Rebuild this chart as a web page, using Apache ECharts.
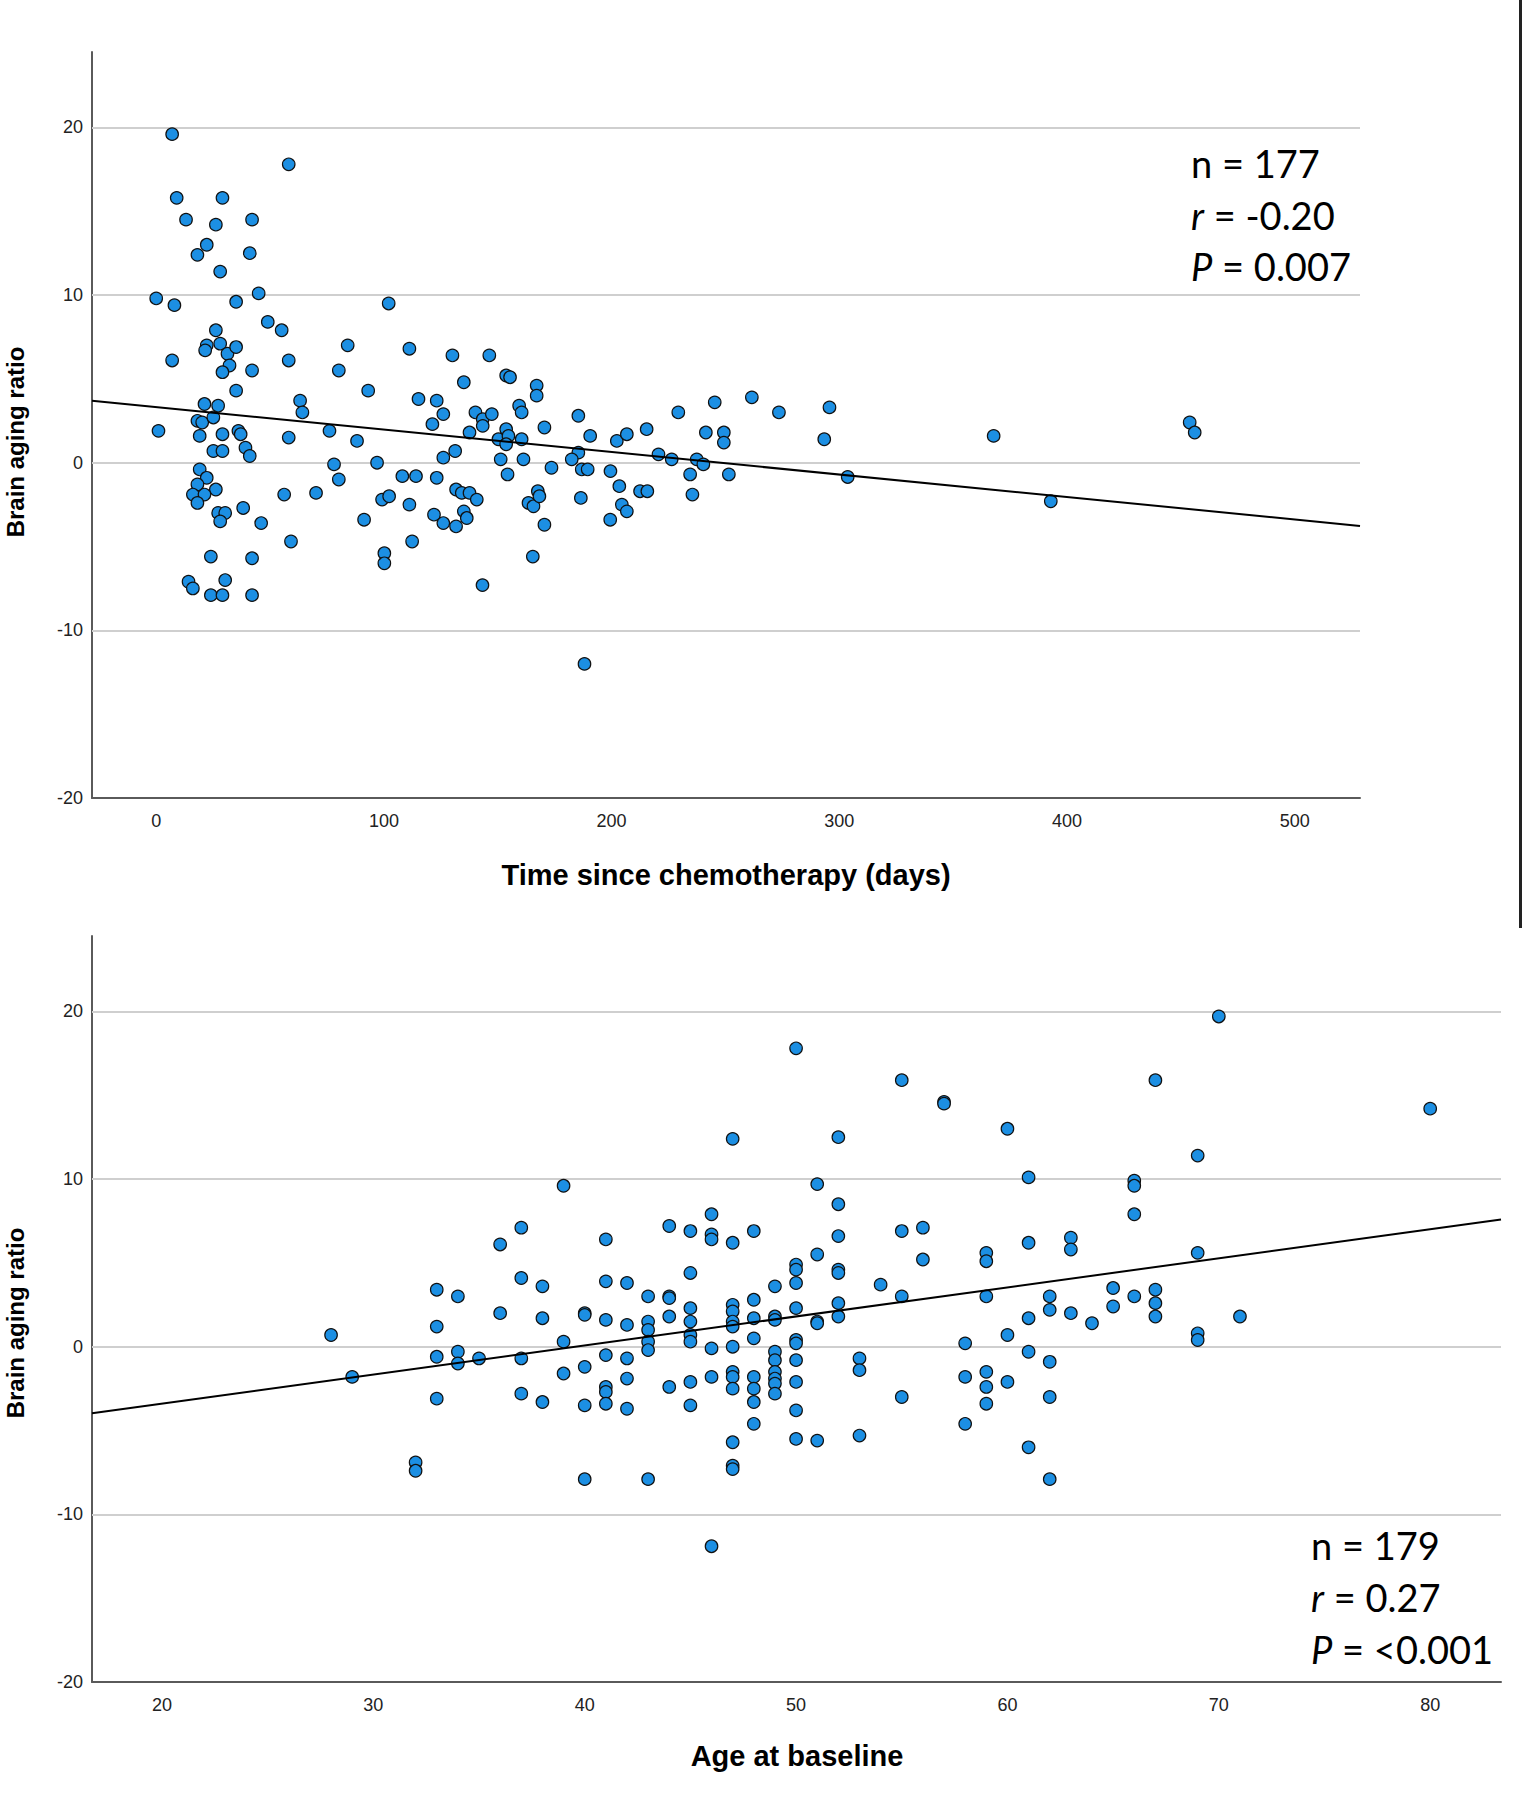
<!DOCTYPE html>
<html>
<head>
<meta charset="utf-8">
<script src="https://cdn.jsdelivr.net/npm/echarts@6/dist/echarts.min.js"></script>
<style>
html,body{margin:0;padding:0;background:#fff;}
#c{width:1522px;height:1800px;}
</style>
</head>
<body>
<div id="c"></div>
<script>
// ---------- data: top panel (time since chemotherapy) ----------
const timeDays = [
  7.0, 58.2, 9.0, 29.1, 13.1, 26.2, 42.1, 22.2, 18.1, 41.1,
  28.1, 0.0, 8.0, 35.1, 45.0, 49.0, 55.1, 102.1, 26.2, 22.2,
  21.5, 28.1, 31.3, 35.1, 32.2, 29.1, 7.0, 42.1, 58.2, 35.1,
  84.1, 80.2, 111.2, 130.1, 93.1, 21.2, 27.2, 18.1, 20.2, 25.1,
  1.0, 19.1, 29.1, 36.1, 37.1, 58.2, 63.2, 64.2, 76.1, 88.2,
  115.2, 123.2, 126.1, 121.3, 25.1, 29.1, 39.2, 41.1, 78.1, 80.2,
  97.0, 126.1, 131.3, 19.1, 22.2, 18.1, 26.2, 16.1, 21.2, 18.1,
  27.2, 30.3, 28.1, 38.2, 46.1, 56.2, 70.2, 59.2, 91.3, 99.2,
  102.3, 108.1, 114.1, 111.2, 123.2, 112.4, 122.0, 126.1, 131.7, 131.7,
  100.2, 100.2, 24.0, 42.1, 14.2, 16.1, 30.3, 24.0, 29.1, 42.1,
  146.3, 135.1, 153.7, 155.4, 167.1, 167.1, 140.2, 143.4, 143.4, 147.4,
  137.6, 159.4, 160.5, 170.5, 150.3, 153.7, 154.7, 153.7, 160.5, 151.3,
  161.3, 154.3, 173.6, 185.4, 190.6, 185.4, 182.5, 186.9, 189.5, 202.3,
  206.7, 199.5, 203.4, 215.4, 212.5, 215.7, 204.5, 206.7, 199.4, 186.5,
  220.6, 226.4, 229.3, 237.4, 240.3, 234.5, 235.5, 241.4, 245.3, 249.3,
  249.3, 251.5, 261.6, 134.2, 137.6, 140.8, 135.1, 136.4, 163.5, 165.7,
  167.6, 168.3, 170.5, 165.4, 143.3, 188.1,
  273.5, 295.7, 293.4, 303.7, 367.8, 392.9, 453.9, 456.1
];
const timeRatio = [
  19.6, 17.8, 15.8, 15.8, 14.5, 14.2, 14.5, 13.0, 12.4, 12.5,
  11.4, 9.8, 9.4, 9.6, 10.1, 8.4, 7.9, 9.5, 7.9, 7.0,
  6.7, 7.1, 6.5, 6.9, 5.8, 5.4, 6.1, 5.5, 6.1, 4.3,
  7.0, 5.5, 6.8, 6.4, 4.3, 3.5, 3.4, 2.5, 2.4, 2.7,
  1.9, 1.6, 1.7, 1.9, 1.7, 1.5, 3.7, 3.0, 1.9, 1.3,
  3.8, 3.7, 2.9, 2.3, 0.7, 0.7, 0.9, 0.4, -0.1, -1.0,
  0.0, 0.3, 0.7, -0.4, -0.9, -1.3, -1.6, -1.9, -1.9, -2.4,
  -3.0, -3.0, -3.5, -2.7, -3.6, -1.9, -1.8, -4.7, -3.4, -2.2,
  -2.0, -0.8, -0.8, -2.5, -0.9, -4.7, -3.1, -3.6, -3.8, -1.6,
  -5.4, -6.0, -5.6, -5.7, -7.1, -7.5, -7.0, -7.9, -7.9, -7.9,
  6.4, 4.8, 5.2, 5.1, 4.6, 4.0, 3.0, 2.6, 2.2, 2.9,
  1.8, 3.4, 3.0, 2.1, 1.4, 2.0, 1.6, 1.1, 1.4, 0.2,
  0.2, -0.7, -0.3, 2.8, 1.6, 0.6, 0.2, -0.4, -0.4, 1.3,
  1.7, -0.5, -1.4, 2.0, -1.7, -1.7, -2.5, -2.9, -3.4, -2.1,
  0.5, 0.2, 3.0, 0.2, -0.1, -0.7, -1.9, 1.8, 3.6, 1.8,
  1.2, -0.7, 3.9, -1.8, -1.8, -2.2, -2.9, -3.3, -2.4, -2.6,
  -1.7, -2.0, -3.7, -5.6, -7.3, -12.0,
  3.0, 3.3, 1.4, -0.85, 1.6, -2.3, 2.4, 1.8
];
const timeTicks = [0, 100, 200, 300, 400, 500];
const timeFit = { intercept: 3.32, slope: -0.01341 };
const timeStats = ['n = 177', '{i|r} = -0.20', '{i|P} = 0.007'];

// ---------- data: bottom panel (age at baseline) ----------
const ageYears = [
  28,29,32,32,33,33,33,33,34,34,34,35,36,36,37,37,37,37,38,38,38,39,39,39,40,40,40,40,40,41,41,41,41,41,41,41,
  42,42,42,42,42,43,43,43,43,43,43,44,44,44,44,44,45,45,45,45,45,45,45,45,46,46,46,46,46,46,
  47,47,47,47,47,47,47,47,47,47,47,47,47,48,48,48,48,48,48,48,48,49,49,49,49,49,49,49,49,49,
  50,50,50,50,50,50,50,50,50,50,50,51,51,51,51,51,52,52,52,52,52,52,52,53,53,53,54,
  55,55,55,55,56,56,57,57,58,58,58,59,59,59,59,59,59,60,60,60,61,61,61,61,61,62,62,62,62,62,63,63,63,64,65,65,66,66,66,66,67,67,67,67,69,69,69,69,70,71,80
];
const ageRatio = [
  0.7,-1.8,-6.9,-7.4,3.4,1.2,-0.6,-3.1,3.0,-0.3,-1.0,-0.7,6.1,2.0,7.1,4.1,-0.7,-2.8,3.6,1.7,-3.3,9.6,0.3,-1.6,2.0,1.9,-1.2,-3.5,-7.9,6.4,3.9,1.6,-0.5,-2.4,-2.7,-3.4,
  3.8,1.3,-0.7,-1.9,-3.7,3.0,1.5,1.0,0.3,-0.2,-7.9,7.2,3.0,2.9,1.8,-2.4,6.9,4.4,2.3,1.5,0.7,0.3,-2.1,-3.5,7.9,6.7,6.4,-0.1,-1.8,-11.9,
  12.4,6.2,2.5,2.1,1.5,1.2,0.0,-1.5,-1.8,-2.5,-5.7,-7.1,-7.3,6.9,2.8,1.7,0.5,-1.8,-2.5,-3.3,-4.6,3.6,1.8,1.6,-0.3,-0.8,-1.5,-1.9,-2.2,-2.8,
  17.8,4.9,4.6,3.8,2.3,0.4,0.2,-0.8,-2.1,-3.8,-5.5,9.7,5.5,1.5,1.4,-5.6,12.5,8.5,6.6,4.6,4.4,2.6,1.8,-0.7,-1.4,-5.3,3.7,
  15.9,6.9,3.0,-3.0,7.1,5.2,14.6,14.5,0.2,-1.8,-4.6,5.6,5.1,3.0,-1.5,-2.4,-3.4,13.0,0.7,-2.1,10.1,6.2,1.7,-0.3,-6.0,3.0,2.2,-0.9,-3.0,-7.9,6.5,5.8,2.0,1.4,3.5,2.4,9.9,9.6,7.9,3.0,15.9,3.4,2.6,1.8,11.4,5.6,0.8,0.4,19.7,1.8,14.2
];
const ageTicks = [20, 30, 40, 50, 60, 70, 80];
const ageFit = { intercept: -6.864, slope: 0.1734 };
const ageStats = ['n = 179', '{i|r} = 0.27', '{i|P} = <0.001'];

// ---------- shared ----------
const ratioTicks = [-20, -10, 0, 10, 20];
const ratioGrid = [-10, 0, 10, 20];
const ratioRange = [-20, 24.5];
const timeRange = [-28.2, 528.7];
const ageRange = [16.69, 83.35];

const POINT = '#1c8fe3';
const GRID = '#cfcfcf';
const AXIS = '#5a5a5a';
const LABEL_FONT = '"Liberation Sans", Arial, sans-serif';

function pairs(xs, ys) { return xs.map((x, i) => [x, ys[i]]); }
function fitLine(fit, range) {
  return range.map(x => [x, fit.intercept + fit.slope * x]);
}
function xAxisOf(idx, range, ticks) {
  return {
    type: 'value', gridIndex: idx, min: range[0], max: range[1],
    axisLine: { show: true, onZero: false, lineStyle: { color: AXIS, width: 2 } },
    axisTick: { show: false },
    splitLine: { show: false },
    axisLabel: { customValues: ticks, margin: 14, fontSize: 18, fontFamily: LABEL_FONT, color: '#222' }
  };
}
function yAxisOf(idx) {
  return {
    type: 'value', gridIndex: idx, min: ratioRange[0], max: ratioRange[1],
    axisLine: { show: true, onZero: false, lineStyle: { color: AXIS, width: 2 } },
    axisTick: { show: false },
    splitLine: { show: false },
    axisLabel: { customValues: ratioTicks, margin: 9, fontSize: 18, fontFamily: LABEL_FONT, color: '#222' }
  };
}
function gridSeries(idx) {
  return {
    type: 'line', xAxisIndex: idx, yAxisIndex: idx, data: [], z: 1, silent: true,
    markLine: {
      z: 1, silent: true, symbol: ['none', 'none'], label: { show: false },
      lineStyle: { color: GRID, width: 2, type: 'solid' }, emphasis: { disabled: true },
      animation: false,
      data: ratioGrid.map(v => ({ yAxis: v }))
    }
  };
}
function scatterSeries(idx, data) {
  return {
    type: 'scatter', xAxisIndex: idx, yAxisIndex: idx, data: data, z: 2,
    symbol: 'circle', symbolSize: 12.5,
    itemStyle: { color: POINT, borderColor: '#111', borderWidth: 1.2, opacity: 1 }
  };
}
function fitSeries(idx, data) {
  return {
    type: 'line', xAxisIndex: idx, yAxisIndex: idx, data: data, z: 3,
    symbol: 'none', silent: true,
    lineStyle: { color: '#000', width: 2 }
  };
}
function statTexts(lines, left, ys) {
  return lines.map((t, i) => ({
    type: 'text', x: left, y: ys[i], z: 10,
    style: {
      text: t, fontFamily: 'Lato', fontSize: 38, fill: '#000',
      verticalAlign: 'middle', align: 'left',
      rich: { i: { fontFamily: 'Lato', fontSize: 38, fontStyle: 'italic', fill: '#000' } }
    }
  }));
}
function titleText(text, x, y, rot) {
  return {
    type: 'text', x: x, y: y, rotation: rot || 0, z: 10,
    style: {
      text: text, fontFamily: LABEL_FONT, fontWeight: 'bold',
      fontSize: rot ? 24 : 29, fill: '#000', align: 'center', verticalAlign: 'middle'
    }
  };
}

const chart = echarts.init(document.getElementById('c'), null, { renderer: 'svg', width: 1522, height: 1800 });
chart.setOption({
  animation: false,
  backgroundColor: '#fff',
  grid: [
    { left: 92, top: 52, width: 1268, height: 746 },
    { left: 92, top: 936, width: 1409, height: 746 }
  ],
  xAxis: [xAxisOf(0, timeRange, timeTicks), xAxisOf(1, ageRange, ageTicks)],
  yAxis: [yAxisOf(0), yAxisOf(1)],
  series: [
    gridSeries(0),
    scatterSeries(0, pairs(timeDays, timeRatio)),
    fitSeries(0, fitLine(timeFit, timeRange)),
    gridSeries(1),
    scatterSeries(1, pairs(ageYears, ageRatio)),
    fitSeries(1, fitLine(ageFit, ageRange))
  ],
  graphic: [
    titleText('Time since chemotherapy (days)', 726, 875),
    titleText('Age at baseline', 797, 1756),
    titleText('Brain aging ratio', 15, 442, Math.PI / 2),
    titleText('Brain aging ratio', 15, 1323, Math.PI / 2),
    ...statTexts(timeStats, 1191, [163, 214.5, 266]),
    ...statTexts(ageStats, 1311, [1545, 1597, 1649]),
    { type: 'rect', shape: { x: 1519, y: 0, width: 3, height: 928 }, style: { fill: '#222' }, z: 10 }
  ]
});
</script>
</body>
</html>
